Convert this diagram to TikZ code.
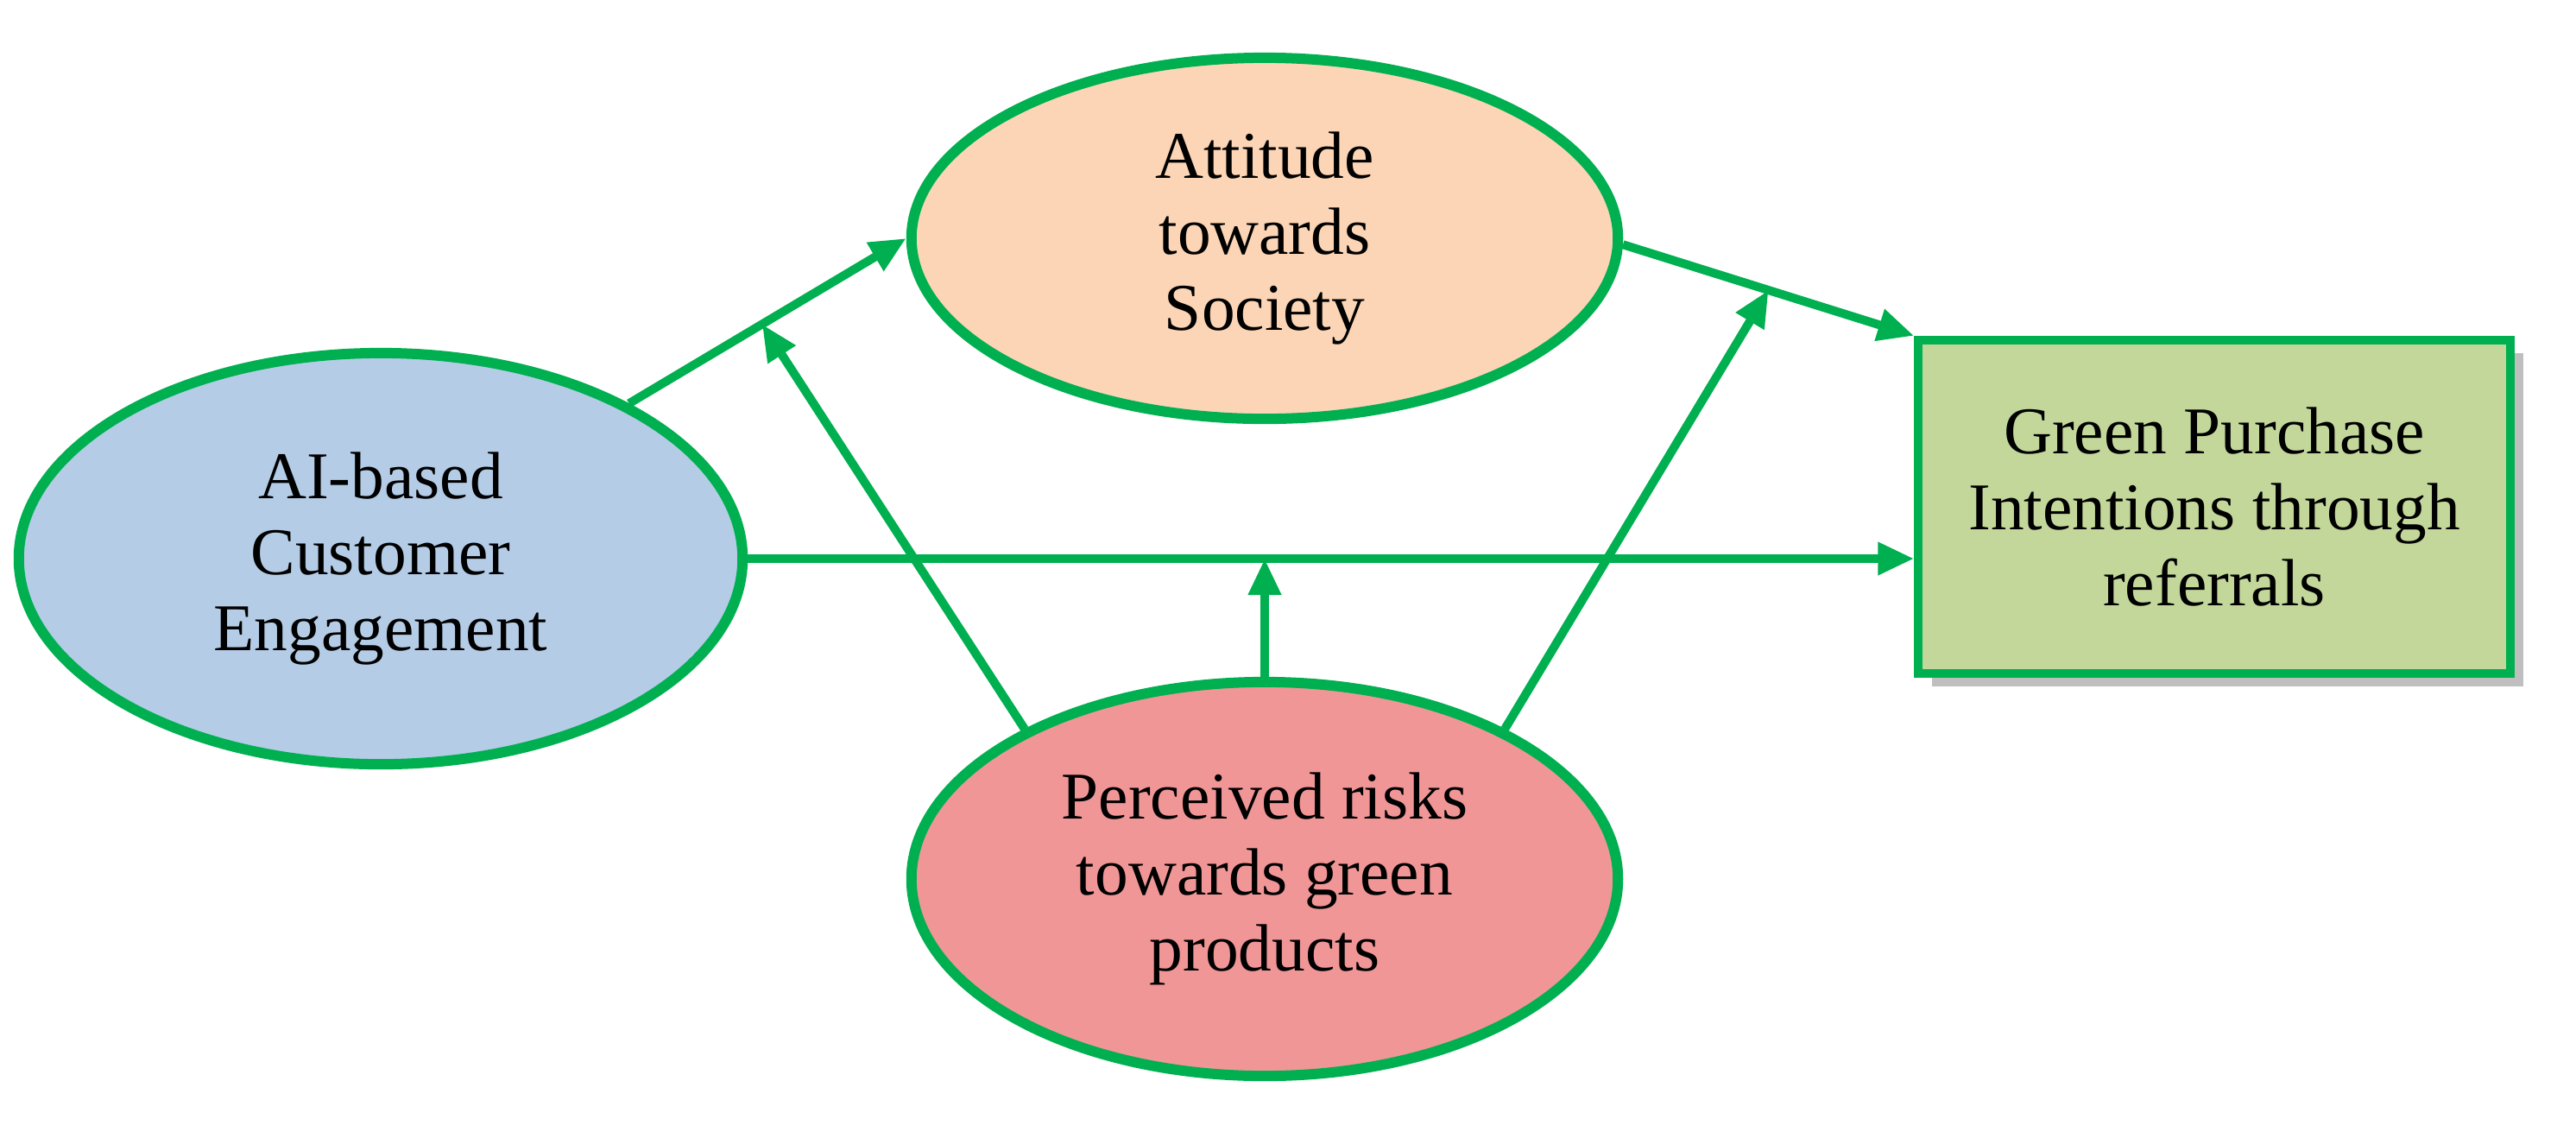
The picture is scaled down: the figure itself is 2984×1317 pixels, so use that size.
\documentclass[tikz,border=0pt]{standalone}
\usepackage{fontspec}
\setmainfont{Liberation Serif}
\usetikzlibrary{shapes.geometric,arrows.meta,calc}
\definecolor{gline}{RGB}{0,176,80}
\definecolor{attf}{RGB}{251,213,181}
\definecolor{aif}{RGB}{180,204,230}
\definecolor{prf}{RGB}{240,150,150}
\definecolor{boxf}{RGB}{195,215,155}
\begin{document}
\begin{tikzpicture}[x=0.01cm,y=-0.01cm,
  ell/.style={ellipse,draw=gline,line width=0.12cm,inner sep=0pt,align=center,
    font=\fontsize{22}{25}\selectfont},
  conn/.style={draw=gline,line width=0.1cm,-{Triangle[length=0.42cm,width=0.36cm]}}]
\useasboundingbox (0,0) rectangle (2984,1317);
\node[ell,fill=attf,minimum width=8.18cm,minimum height=4.18cm] (att) at (1465,276) {Attitude\\towards\\Society};
\node[ell,fill=aif,minimum width=8.38cm,minimum height=4.76cm] (ai) at (441,647) {AI-based\\Customer\\Engagement};
\node[ell,fill=prf,minimum width=8.18cm,minimum height=4.56cm] (pr) at (1465,1018) {Perceived risks\\towards green\\products};
\fill[gray!50] (2238,409) rectangle (2923,795);
\node[draw=gline,fill=boxf,line width=0.1cm,minimum width=6.85cm,minimum height=3.86cm,align=center,
  font=\fontsize{22}{25}\selectfont] (box) at (2565,587) {Green Purchase\\Intentions through\\referrals};
\draw[conn] (ai.32) -- (att.180);
\draw[conn] (att.-1) -- (box.north west);
\draw[conn] (ai.east) -- (ai.east -| box.west);
\coordinate (m1) at ($(ai.32)!0.48!(att.180)$);
\coordinate (m2) at ($(att.-1)!0.5!(box.north west)$);
\coordinate (m3) at (pr.north |- ai.east);
\draw[conn] (pr.148) -- (m1);
\draw[conn] (pr.32) -- (m2);
\draw[conn] (pr.north) -- (m3);
\end{tikzpicture}
\end{document}
